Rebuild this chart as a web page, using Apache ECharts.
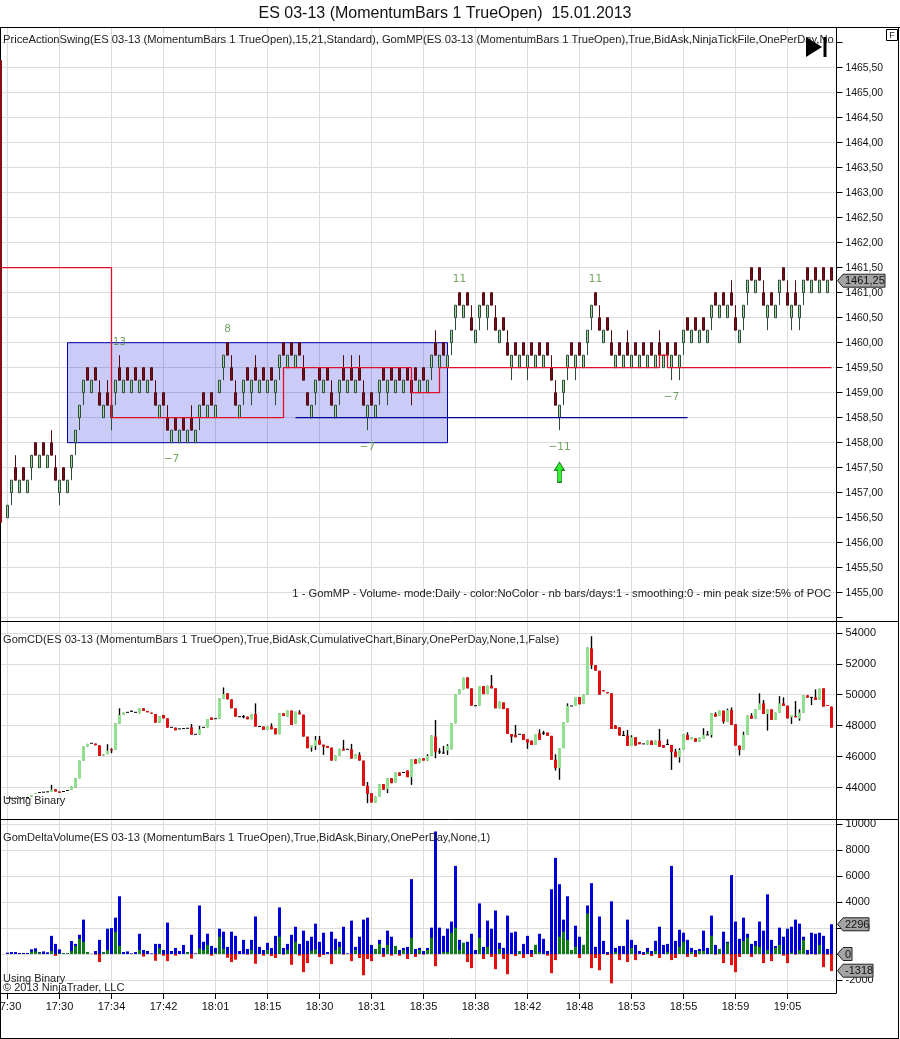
<!DOCTYPE html>
<html>
<head>
<meta charset="utf-8">
<style>html,body{margin:0;padding:0;background:#fff}#c{width:900px;height:1039px}</style>
<script src="https://cdn.jsdelivr.net/npm/echarts@6/dist/echarts.min.js"></script>
</head>
<body>
<div id="c"></div>
<script>
// ---------- DATA ----------
const firstBar = 2;
const timeTickBars = [2,15,28,41,54,67,80,93,106,119,132,145,158,171,184,197];
const timeLabels = ['17:30','17:30','17:34','17:42','18:01','18:15','18:30','18:31','18:35','18:38','18:42','18:48','18:53','18:55','18:59','19:05'];
const priceTicks = [1466,1465.5,1465,1464.5,1464,1463.5,1463,1462.5,1462,1461.5,1461,1460.5,1460,1459.5,1459,1458.5,1458,1457.5,1457,1456.5,1456,1455.5,1455,1454.5];
const priceLabelTicks = [1465.5,1465,1464.5,1464,1463.5,1463,1462.5,1462,1461.5,1461,1460.5,1460,1459.5,1459,1458.5,1458,1457.5,1457,1456.5,1456,1455.5,1455];
const cdTicks = [54000,52000,50000,48000,46000,44000];
const volTicks = [10000,8000,6000,4000,2000,0,-2000];

const openingBarIndex = 0.375;
const openingBar = [1465.65, 1456.4];
const renkoBox = 0.25;
const priceBodyLow = [1456.5,1457,1457.25,1457,1457.25,1457,1457.5,1457.75,1457.5,1457.75,
1457.5,1457.75,1457.25,1457,1457.25,1457,1457.5,1458,1458.5,1459,
1459.25,1459,1459.25,1458.75,1458.5,1458.75,1458.5,1459,1459.25,1459,
1459.25,1459,1459.25,1459,1459.25,1459,1459.25,1458.75,1458.5,1458.75,
1458.25,1458,1458.25,1458,1458.25,1458,1458.25,1458,1458.5,1458.75,
1458.5,1458.75,1458.5,1459,1459.5,1459.75,1459.25,1458.75,1458.5,1459,
1459.25,1459,1459.25,1459,1459.25,1459,1459.25,1459,1459.5,1459.75,
1459.5,1459.75,1459.5,1459.75,1459.25,1458.75,1458.5,1459,1459.25,1459,
1459.25,1458.75,1458.5,1459,1459.25,1459,1459.25,1459,1459.25,1458.75,
1458.5,1458.75,1458.5,1459,1459.25,1459,1459.25,1459,1459.25,1459,
1459.25,1459,1459.25,1459,1459.25,1459,1459.5,1459.75,1459.5,1459.75,
1459.5,1460,1460.5,1460.75,1460.5,1460.75,1460.25,1460,1460.5,1460.75,
1460.5,1460.75,1460.25,1460,1460.25,1459.75,1459.5,1459.75,1459.5,1459.75,
1459.5,1459.75,1459.5,1459.75,1459.5,1459.75,1459.25,1458.75,1458.5,1459,
1459.5,1459.75,1459.5,1459.75,1459.5,1460,1460.5,1460.75,1460.25,1460,
1460.25,1459.75,1459.5,1459.75,1459.5,1459.75,1459.5,1459.75,1459.5,1459.75,
1459.5,1459.75,1459.5,1459.75,1459.5,1459.75,1459.5,1459.75,1459.5,1460,
1460.25,1460,1460.25,1460,1460.25,1460,1460.5,1460.75,1460.5,1460.75,
1460.5,1460.75,1460.25,1460,1460.5,1461,1461.25,1461,1461.25,1460.75,
1460.5,1460.75,1460.5,1461,1461.25,1460.75,1460.5,1460.75,1460.5,1461,
1461.25,1461,1461.25,1461,1461.25,1461,1461.25];
const extraDownBars = [103];
const wickLowBars = [3,8,15,18,19,20,21,28,29,50,56,61,63,69,70,79,85,92,95,97,103,108,113,114,120,122,128,132,140,141,142,144,147,148,168,170,171,178,186,187,192,195,198,200,201];
const wickLowPrices = [1456.75,1457.25,1456.75,1457.25,1457.75,1458.25,1458.75,1458.25,1458.75,1458.25,1459.25,1458.75,1458.75,1458.75,1459.25,1458.75,1458.75,1458.25,1458.75,1458.75,1458.75,1459.25,1459.75,1460.25,1460.25,1460.25,1459.25,1459.25,1458.25,1458.75,1459.25,1459.25,1459.75,1460.25,1459.25,1459.25,1459.75,1460.25,1460.25,1460.75,1460.25,1460.75,1460.25,1460.25,1460.75];
const wickHighBars = [4,13,14,25,27,28,30,39,42,48,58,59,64,76,83,86,88,90,91,109,118,124,127,138,139,150,153,157,165,183,184,191,197,199];
const wickHighPrices = [1457.75,1458.25,1457.75,1459.25,1459.25,1459,1459.75,1459.25,1458.75,1458.75,1459.75,1459.25,1459.75,1459.75,1459.25,1459.75,1459.75,1459.75,1459.25,1460.25,1460.75,1460.75,1460.25,1459.75,1459.25,1460.75,1460.25,1460.25,1460.25,1461.25,1460.75,1461.25,1461.25,1461.25];

const pocBars = [0.125,28,71,103,110,165,167,208];
const pocPrices = [1461.5,1458.5,1459.5,1459,1459.5,1459.75,1459.5,1459.5];
const lowLineBars = [74,172];
const lowLinePrice = 1458.5;
const boxBars = [17,112];
const boxPrices = [1460,1458];
const swingBars = [30,57,43,115,92,140,149,168];
const swingPrices = [1460.01,1460.27,1457.67,1461.27,1457.91,1457.91,1461.27,1458.91];
const swingLabels = ['13','8','\u22127','11','\u22127','\u221211','11','\u22127'];
const arrowBar = 140;
const arrowPrice = 1457.41;

const cdOpen = [43310,43310,43310,43330,43330,43350,43420,43600,43680,43700,
43720,43720,43890,43740,43740,43810,43850,44000,44600,45740,
46650,46860,46840,46730,46070,46150,46470,46430,48110,48690,
48860,48930,48860,48800,49120,48950,48840,48750,48190,48690,
48470,47890,47870,47790,47810,47830,47890,47440,47420,47890,
47890,48520,48450,48450,49740,50090,49700,49120,48580,48580,
48580,48410,48750,47940,47940,47720,47940,47830,47440,48800,
48580,48970,48110,48840,48710,47290,46580,46690,47080,46770,
46690,46580,45740,46070,46500,46470,46470,45890,46110,45740,
44110,43640,43030,43420,44220,43890,44600,44320,44970,44970,
45100,44670,45830,45570,45890,45740,46040,47290,46300,46220,
46390,46470,48150,50040,50340,51120,50410,49290,49290,50560,
50040,50580,50410,49120,49500,49120,47460,47400,47440,47460,
47120,47030,46750,47510,47510,47550,47340,45790,45250,46540,
48220,49270,49270,49850,49400,50000,52990,51910,51550,50300,
50170,50090,48000,47890,47360,47360,46690,47250,46930,46820,
46770,47030,46750,47030,46750,46780,46750,46320,45960,46430,
47400,47120,47180,46950,47140,47400,47400,48750,48620,48970,
48260,49010,48090,46710,46430,47400,48650,48450,49010,49440,
48750,49050,48370,48840,49440,49290,48540,48620,48450,48840,
49960,49830,49830,49660,50410,49330,49230];
const cdClose = [43310,43310,43310,43330,43330,43350,43510,43640,43680,43700,
43720,43850,43740,43660,43740,43810,44070,44600,45740,46650,
46820,46860,46730,46040,46150,46390,46390,48150,48690,48840,
48860,48930,48860,49120,48950,48860,48770,48190,48620,48470,
47870,47890,47700,47790,47810,47830,47420,47440,47760,47890,
48430,48370,48450,49760,50040,49700,49120,48580,48580,48580,
48410,48730,47940,47940,47720,47980,47760,47440,48800,48620,
48970,48040,48900,48730,47290,46540,46750,47080,46770,46650,
46560,45740,46090,46500,46390,46470,45870,46150,45740,44110,
43590,43030,43420,44220,43850,44600,44280,44970,44760,44970,
44670,45830,45530,45890,45740,46040,47360,46320,46300,46220,
46690,48150,50040,50340,51100,50410,49290,49290,50560,50040,
50580,50410,49120,49550,49070,47460,47290,47250,47440,47080,
46900,46750,47420,47080,47510,47340,45790,45250,46540,48220,
49270,49270,49850,49380,50000,53050,51910,51550,50000,50220,
50090,47790,47790,47360,47360,46690,47250,46710,46800,46820,
47030,46750,47030,46630,46580,46780,46300,45960,46430,47440,
47080,47250,46950,47230,47400,47400,48800,48580,48970,48260,
49010,48040,46710,46430,47400,48650,48450,49050,49440,48750,
49050,48370,48840,49440,49270,48470,48690,48540,48840,49960,
49810,49830,49660,50390,49230,49270,47870];
const cdLowBars = [28,33,61,78,79,81,92,97,103,109,110,112,128,132,136,139,140,148,168,170,178,181,185,192,198,200,203];
const cdLowValues = [46220,48900,48470,46320,46430,46110,42990,43640,44170,45890,46170,46110,46900,46500,47400,45100,44500,51660,45140,45610,47230,48130,46070,47680,48110,48320,49330];
const cdHighBars = [13,27,28,30,33,48,50,56,61,64,68,75,79,80,86,88,90,92,107,109,110,111,112,123,129,135,136,139,142,148,154,156,157,158,165,167,169,170,172,176,177,179,182,183,186,188,190,191,195,196,199,200,204];
const cdHighValues = [44170,46800,46540,49120,48970,48110,47980,50470,48690,49440,48150,49000,47330,47330,47080,46820,46280,44350,46150,48370,46540,46690,46800,51270,48040,47760,47660,46150,49440,53780,48040,47660,47720,47380,47790,47120,46500,46540,47570,47830,47660,48860,49100,49180,47610,48800,50090,49660,49910,49830,49590,49050,50340];

const volTotal = [100,150,150,80,80,80,360,440,150,200,130,1400,
780,360,50,50,1000,780,1480,2650,150,20,
230,1090,130,1950,2000,2800,4450,150,200,50,
150,1560,310,230,50,780,780,310,2420,230,
470,230,700,150,1480,50,3740,940,1560,620,
470,1950,1720,550,1720,1400,230,1090,390,1090,
2890,550,310,860,470,1400,3590,470,780,1480,
2100,780,1800,1010,1330,2340,940,1640,150,1720,
1170,940,2100,50,2570,550,1330,2650,2800,700,
390,1090,470,1800,1330,620,310,470,550,5770,
390,470,230,470,2030,9440,2030,1400,1950,2500,
6790,1090,860,940,1560,310,3900,550,2570,1950,
3350,860,470,2960,1640,1720,230,780,1400,310,
700,1560,1170,230,4990,7410,5380,2650,4450,310,
2180,1330,700,3740,5460,550,2890,1010,150,4060,
470,620,620,2650,1090,700,230,150,470,230,
1010,2100,700,780,6790,1010,1870,1640,1090,470,
310,390,1800,470,2960,700,390,1720,940,6080,
2500,1170,2800,1560,780,1010,2500,1800,4600,1090,
620,2030,1330,1950,2100,2650,2340,1330,310,1640,
1560,1640,1400,390,2296];
const volGreen = [0,0,0,0,0,0,180,200,100,0,0,230,
0,50,50,50,230,620,1170,940,150,0,
0,0,130,310,0,1700,620,0,0,0,
0,310,0,0,0,0,440,0,0,0,
0,0,0,150,0,0,420,310,700,0,
100,1330,390,0,0,0,0,0,0,310,
0,0,0,310,0,0,1330,0,310,0,
940,0,0,0,260,360,0,0,0,0,
310,550,0,0,0,310,0,0,0,0,
390,780,0,700,0,620,0,310,0,1250,
0,310,0,310,1250,0,0,150,150,1640,
2030,310,860,0,0,0,1250,0,550,0,
0,390,0,0,0,0,230,0,0,0,
700,150,0,0,0,0,1330,1720,1090,310,
550,0,700,3120,0,0,0,0,0,0,
150,0,0,0,470,0,0,0,150,0,
230,0,0,150,0,0,550,940,0,150,
0,230,230,0,1400,0,390,0,860,0,
0,0,1010,1250,0,620,550,0,310,0,
470,700,0,0,100,0,310,1090,0,0,
0,700,0,0,0];
const volRed = [0,0,0,0,0,0,0,0,0,0,0,0,
-150,0,0,0,0,0,0,0,0,0,
-50,-620,0,0,0,0,0,0,0,0,
0,0,-200,0,0,-520,0,-130,-550,0,
-130,0,0,0,-360,0,0,0,0,-130,
0,0,0,-290,-620,-440,0,0,-50,0,
-750,0,-130,0,-160,-310,0,-50,0,-830,
0,-130,-1400,-700,0,0,-230,-80,0,-780,
0,0,-50,0,-550,0,-310,-1640,-390,-550,
0,0,-230,0,-130,0,-130,0,-390,0,
-230,0,-50,0,0,-940,0,0,0,0,
0,0,0,-620,-1090,0,0,-390,0,-230,
-1170,0,-390,-1560,0,-160,0,-310,0,-230,
0,0,0,-130,-1480,-470,0,0,0,0,
0,-310,0,0,-1090,-310,-1250,0,-80,-2260,
0,-470,0,-620,0,-470,0,-80,0,-160,
0,-310,0,0,-470,-310,0,0,-230,0,
-230,0,0,0,0,-50,0,-700,0,-860,
-1400,-230,0,0,-230,0,0,-700,0,-550,
0,0,-130,-700,0,-50,0,0,-50,0,
-50,0,-1010,-50,-1318];

const titleText = 'ES 03-13 (MomentumBars 1 TrueOpen)  15.01.2013';
const legend1 = 'PriceActionSwing(ES 03-13 (MomentumBars 1 TrueOpen),15,21,Standard), GomMP(ES 03-13 (MomentumBars 1 TrueOpen),True,BidAsk,NinjaTickFile,OnePerDay,No';
const legend2 = 'GomCD(ES 03-13 (MomentumBars 1 TrueOpen),True,BidAsk,CumulativeChart,Binary,OnePerDay,None,1,False)';
const legend3 = 'GomDeltaVolume(ES 03-13 (MomentumBars 1 TrueOpen),True,BidAsk,Binary,OnePerDay,None,1)';
const mpNote = '1 - GomMP - Volume- mode:Daily - color:NoColor - nb bars/days:1 - smoothing:0 - min peak size:5% of POC';
const usingBinary = 'Using Binary';
const copyright = '\u00a9 2013 NinjaTrader, LLC';

// ---------- BUILD ----------
const FONT = '"Liberation Sans", Arial, sans-serif';
const X_MIN = 0.125, X_MAX = 209.25;   // 4 px per bar across the 836.5 px wide plot

const wl = {}, wh = {};
wickLowBars.forEach((b, k) => wl[b] = wickLowPrices[k]);
wickHighBars.forEach((b, k) => wh[b] = wickHighPrices[k]);
const priceData = [];
priceBodyLow.forEach((b, k) => {
  const i = k + firstBar;
  const down = Math.round(b * 4) % 2 !== 0 || extraDownBars.includes(i);
  const top = b + renkoBox;
  priceData.push([i, down ? top : b, down ? b : top, wl[i] || b, wh[i] || top]);
});

const cl = {}, ch = {};
cdLowBars.forEach((b, k) => cl[b] = cdLowValues[k]);
cdHighBars.forEach((b, k) => ch[b] = cdHighValues[k]);
const cdData = cdOpen.map((o, k) => {
  const i = k + firstBar, c = cdClose[k];
  return [i, o, c, cl[i] !== undefined ? cl[i] : Math.min(o, c), ch[i] !== undefined ? ch[i] : Math.max(o, c)];
});
const barPairs = a => a.map((v, k) => [k + firstBar, v]).filter(p => p[1] !== 0);

function yAxisBase(gridIndex, min, max, ticks, labels, fmt, size) {
  return {
    type: 'value', gridIndex, position: 'right', min, max, scale: true,
    axisLine: { show: true, onZero: false, lineStyle: { color: '#000', width: 1 } },
    axisTick: { show: true, length: 6, lineStyle: { color: '#000' }, customValues: ticks },
    axisLabel: { show: true, margin: 9, padding: [2, 0, 0, 0], fontFamily: FONT, fontSize: size, color: '#111', customValues: labels, formatter: fmt, showMinLabel: true, showMaxLabel: true, hideOverlap: false },
    splitLine: { show: true, lineStyle: { color: '#dcdcdc', width: 1 } }
  };
}
function xAxisBase(gridIndex, showLabels) {
  return {
    type: 'value', gridIndex, min: X_MIN, max: X_MAX, scale: true, containShape: false,
    axisLine: { show: false, onZero: false },
    axisTick: { show: showLabels, length: 6, customValues: timeTickBars, lineStyle: { color: '#000' } },
    axisLabel: { show: showLabels, margin: 8, fontFamily: FONT, fontSize: 11, color: '#111', hideOverlap: false, showMinLabel: true, showMaxLabel: true,
      customValues: timeTickBars, formatter: v => timeLabels[timeTickBars.indexOf(v)] },
    splitLine: { show: true, lineStyle: { color: '#dcdcdc', width: 1 } }
  };
}
function renderCd(params, api) {
  const i = api.value(0), o = api.value(1), c = api.value(2), l = api.value(3), h = api.value(4);
  const pO = api.coord([i, o]), pC = api.coord([i, c]), pL = api.coord([i, l]), pH = api.coord([i, h]);
  const x = pO[0];
  const children = [{
    type: 'line', shape: { x1: x, y1: pL[1], x2: x, y2: pH[1] }, style: { stroke: '#000', lineWidth: 1.4 }
  }];
  if (o === c) {
    children.push({ type: 'rect', shape: { x: x - 1.5, y: pO[1] - 0.5, width: 3, height: 1 }, style: { fill: '#000' } });
  } else {
    const top = Math.min(pO[1], pC[1]), bot = Math.max(pO[1], pC[1]);
    children.push({ type: 'rect', shape: { x: x - 1.5, y: top, width: 3, height: Math.max(bot - top, 1) }, style: { fill: c > o ? '#90e090' : '#e01010' } });
  }
  return { type: 'group', children };
}
function renderOpeningBar(params, api) {
  const p1 = api.coord([api.value(0), api.value(1)]), p2 = api.coord([api.value(0), api.value(2)]);
  return { type: 'line', shape: { x1: p1[0], y1: p1[1], x2: p2[0], y2: p2[1] }, style: { stroke: '#8a0c16', lineWidth: 2 } };
}
const volumeSeries = (values, color, z) => ({
  type: 'bar', xAxisIndex: 2, yAxisIndex: 2, z, barWidth: 3, barGap: '-100%', data: barPairs(values), itemStyle: { color }
});
const textEl = (text, x, y, size, extra, z) => ({
  type: 'text', x, y, z: z || 50, silent: true,
  style: Object.assign({ text, fontFamily: FONT, fontSize: size, fill: '#222', verticalAlign: 'middle' }, extra || {})
});
const lineEl = (x1, y1, x2, y2) => ({ type: 'line', z: 40, silent: true, shape: { x1, y1, x2, y2 }, style: { stroke: '#000', lineWidth: 1 } });
const tagEl = (label, y, right) => ([
  { type: 'polygon', z: 60, silent: true, shape: { points: [[837.5, y], [843, y - 6.5], [right, y - 6.5], [right, y + 6.5], [843, y + 6.5]] }, style: { fill: '#a4a4a4', stroke: '#222', lineWidth: 1 } },
  textEl(label, 845, y + 0.5, 11, { fill: '#111' }, 61)
]);
const tagEls = [].concat(tagEl('1461,25', 280.7, 885), tagEl('2296', 924.3, 869), tagEl('0', 954, 852), tagEl('-1318', 970.7, 873));

const option = {
  animation: false,
  backgroundColor: '#fff',
  grid: [
    { left: 0, width: 836.5, top: 28, height: 593, outerBoundsMode: 'none' },
    { left: 0, width: 836.5, top: 621.5, height: 198, outerBoundsMode: 'none' },
    { left: 0, width: 836.5, top: 819.5, height: 173.5, outerBoundsMode: 'none' }
  ],
  xAxis: [xAxisBase(0, false), xAxisBase(1, false), xAxisBase(2, true)],
  yAxis: [
    yAxisBase(0, 1454.434, 1466.294, priceTicks, priceLabelTicks, v => v.toFixed(2).replace('.', ','), 10.4),
    yAxisBase(1, 41931, 54733, cdTicks, cdTicks, v => String(v), 11),
    yAxisBase(2, -3006, 10366, volTicks, volTicks, v => String(v), 11)
  ],
  series: [
    { type: 'custom', xAxisIndex: 0, yAxisIndex: 0, z: 45, clip: false, renderItem: renderOpeningBar, encode: { x: 0, y: [1, 2] }, data: [[openingBarIndex, openingBar[0], openingBar[1]]] },
    { type: 'candlestick', xAxisIndex: 0, yAxisIndex: 0, barWidth: 2, data: priceData, z: 3,
      encode: { x: 0, y: [1, 2, 3, 4] },
      itemStyle: { color: '#a4dca0', color0: '#7a0c18', borderColor: '#2e4a3a', borderColor0: '#520a12', borderWidth: 1 } },
    { type: 'line', xAxisIndex: 0, yAxisIndex: 0, z: 4, step: 'end', symbol: 'none', data: pocBars.map((b, k) => [b, pocPrices[k]]),
      lineStyle: { color: '#e0102c', width: 1.3 } },
    { type: 'line', xAxisIndex: 0, yAxisIndex: 0, z: 4, symbol: 'none', data: lowLineBars.map(b => [b, lowLinePrice]),
      lineStyle: { color: '#000090', width: 1.2 } },
    { type: 'line', xAxisIndex: 0, yAxisIndex: 0, z: 5, symbol: 'none', data: [],
      markArea: { silent: true, itemStyle: { color: 'rgba(20,20,225,0.22)', borderColor: '#0000b0', borderWidth: 1 },
        data: [[{ xAxis: boxBars[0], yAxis: boxPrices[0] }, { xAxis: boxBars[1], yAxis: boxPrices[1] }]] } },
    { type: 'scatter', xAxisIndex: 0, yAxisIndex: 0, z: 6, symbolSize: 0.1, itemStyle: { color: 'rgba(0,0,0,0)' },
      data: swingBars.map((b, k) => ({ value: [b, swingPrices[k]], label: { formatter: swingLabels[k] } })),
      label: { show: true, position: 'inside', padding: [2, 0, 0, 0], fontFamily: '"DejaVu Sans", sans-serif', fontSize: 10.5, color: '#4f8a3c' } },
    { type: 'scatter', xAxisIndex: 0, yAxisIndex: 0, z: 6, data: [[arrowBar, arrowPrice]], symbol: 'path://M5 0 L10 8 L7 8 L7 20 L3 20 L3 8 L0 8 Z', symbolSize: [10, 20],
      itemStyle: { color: '#00ee00', borderColor: '#006000', borderWidth: 1 } },
    { type: 'custom', xAxisIndex: 1, yAxisIndex: 1, z: 3, renderItem: renderCd, encode: { x: 0, y: [1, 2, 3, 4] }, data: cdData },
    volumeSeries(volTotal, '#0000d8', 3),
    volumeSeries(volGreen, '#0e7a18', 4),
    volumeSeries(volRed, '#e41010', 4)
  ],
  graphic: { elements: [
    lineEl(0, 27.5, 900, 27.5), lineEl(0, 621.5, 899, 621.5), lineEl(0, 819.5, 899, 819.5),
    lineEl(0, 993.5, 836.5, 993.5), lineEl(0, 1038.5, 899, 1038.5),
    lineEl(0.5, 27, 0.5, 1039), lineEl(898.5, 27, 898.5, 1039),
    textEl(titleText, 445, 14, 16, { align: 'center', fill: '#111' }),
    textEl(legend1, 3, 40, 11.2),
    textEl(legend2, 3, 640, 11.1),
    textEl(legend3, 3, 838, 11.1),
    textEl(mpNote, 831, 594, 11.23, { align: 'right' }),
    textEl(usingBinary, 3, 801, 11),
    textEl(usingBinary, 3, 979, 11),
    textEl(copyright, 3, 988, 11),
    { type: 'polygon', z: 55, silent: true, shape: { points: [[806, 37], [822, 47], [806, 57]] }, style: { fill: '#000' } },
    { type: 'rect', z: 55, silent: true, shape: { x: 823.5, y: 37, width: 3, height: 20 }, style: { fill: '#000' } },
    { type: 'rect', z: 55, silent: true, shape: { x: 886.5, y: 29.5, width: 11, height: 11 }, style: { fill: '#fff', stroke: '#000', lineWidth: 1 } },
    textEl('F', 892, 36, 9, { align: 'center' }, 56)
  ].concat(tagEls) }
};
var chart = echarts.init(document.getElementById('c'), null, { renderer: 'canvas', width: 900, height: 1039 });
chart.setOption(option);
</script>
</body>
</html>
